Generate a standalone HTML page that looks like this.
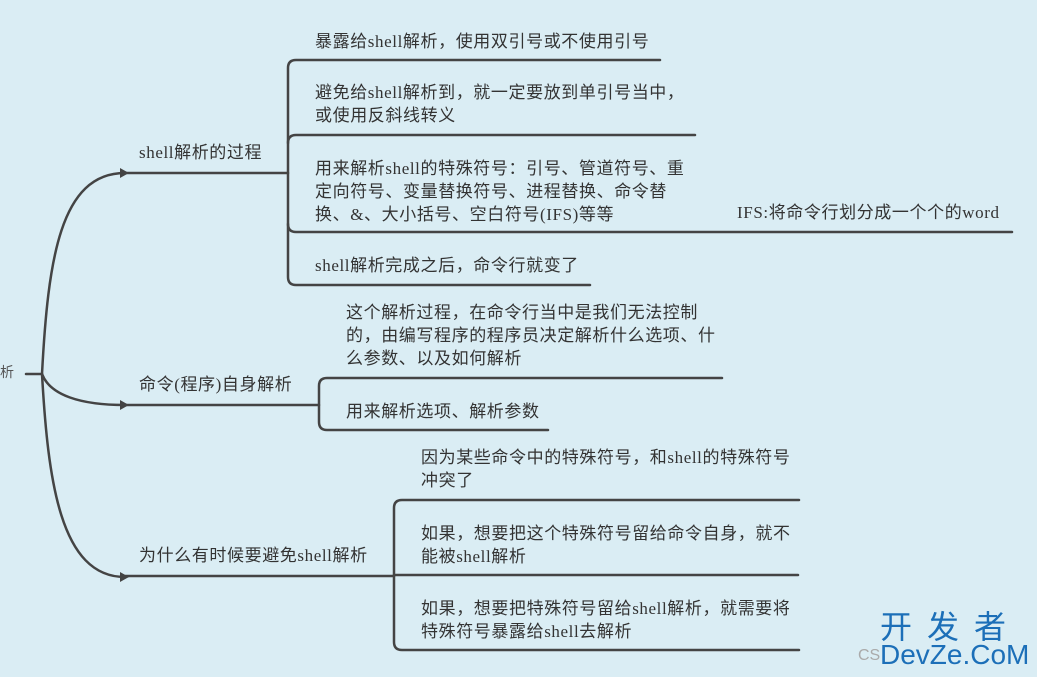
<!DOCTYPE html>
<html><head><meta charset="utf-8"><style>
html,body{margin:0;padding:0;}
body{width:1037px;height:677px;background:#daedf4;overflow:hidden;position:relative;}
svg{position:absolute;left:0;top:0;}
.t{position:absolute;font-family:"Liberation Serif","Noto Sans CJK SC",serif;font-size:17px;letter-spacing:0.6px;color:#333;line-height:23px;white-space:nowrap;}
</style></head><body>
<svg width="1037" height="677" viewBox="0 0 1037 677">
<g fill="none" stroke="#444" stroke-width="2.5" stroke-linecap="round">
<line x1="26" y1="374" x2="42" y2="374"/>
<path d="M42 374 C48 260 60 173 125 173"/>
<path d="M42 374 C50 395 80 405 125 405"/>
<path d="M42 374 C48 480 60 577 125 577"/>
<line x1="125" y1="173" x2="288" y2="173"/>
<line x1="125" y1="405" x2="319" y2="405"/>
<line x1="125" y1="576" x2="394" y2="576"/>
<path d="M660 60 H296 Q288 60 288 68 V277 Q288 285 296 285 H590"/>
<path d="M695 135 H296 Q288 135 288 143"/>
<path d="M1012 232 H296 Q288 232 288 224"/>
<path d="M722 378 H327 Q319 378 319 386 V422 Q319 430 327 430 H548"/>
<path d="M799 500 H402 Q394 500 394 508 V642 Q394 650 402 650 H799"/>
<line x1="394" y1="575" x2="798" y2="575"/>
</g>
<g fill="#444"><polygon points="120,168 129,173 120,178"/><polygon points="120,400 129,405 120,410"/><polygon points="120,572 129,577 120,582"/></g>
</svg>
<div class="t" style="left:0;top:362px;color:#555;font-size:14px;">析</div>
<div class="t" style="left:139px;top:141px;">shell解析的过程</div>
<div class="t" style="left:139px;top:373px;">命令(程序)自身解析</div>
<div class="t" style="left:139px;top:544px;">为什么有时候要避免shell解析</div>
<div class="t" style="left:315px;top:30px;">暴露给shell解析，使用双引号或不使用引号</div>
<div class="t" style="left:315px;top:81px;">避免给shell解析到，就一定要放到单引号当中，<br>或使用反斜线转义</div>
<div class="t" style="left:315px;top:157px;">用来解析shell的特殊符号：引号、管道符号、重<br>定向符号、变量替换符号、进程替换、命令替<br>换、&amp;、大小括号、空白符号(IFS)等等</div>
<div class="t" style="left:737px;top:201px;">IFS:将命令行划分成一个个的word</div>
<div class="t" style="left:315px;top:254px;">shell解析完成之后，命令行就变了</div>
<div class="t" style="left:346px;top:301px;">这个解析过程，在命令行当中是我们无法控制<br>的，由编写程序的程序员决定解析什么选项、什<br>么参数、以及如何解析</div>
<div class="t" style="left:346px;top:400px;">用来解析选项、解析参数</div>
<div class="t" style="left:421px;top:446px;">因为某些命令中的特殊符号，和shell的特殊符号<br>冲突了</div>
<div class="t" style="left:421px;top:522px;">如果，想要把这个特殊符号留给命令自身，就不<br>能被shell解析</div>
<div class="t" style="left:421px;top:597px;">如果，想要把特殊符号留给shell解析，就需要将<br>特殊符号暴露给shell去解析</div>
<div style="position:absolute;left:880px;top:606px;font-family:'Noto Sans CJK SC',sans-serif;font-size:32px;color:#1c6fb8;letter-spacing:15px;line-height:38px;">开发者</div>
<div style="position:absolute;left:858px;top:646px;font-family:'Liberation Sans',sans-serif;font-size:16px;color:#aaa;line-height:20px;">CS</div>
<div style="position:absolute;left:880px;top:639px;font-family:'Liberation Sans',sans-serif;font-size:28px;color:#1c6fb8;line-height:32px;">DevZe.CoM</div>
</body></html>
